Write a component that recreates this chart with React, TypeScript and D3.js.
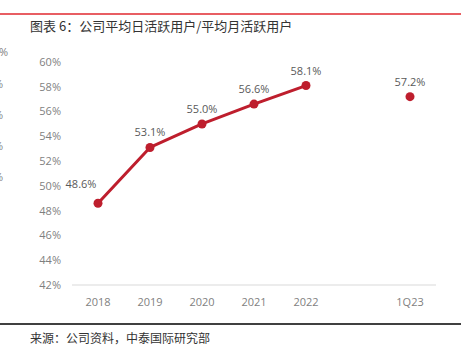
import React from "react";
import * as d3 from "d3";

const categories = ["2018", "2019", "2020", "2021", "2022", "", "1Q23"];
const lineValues = [48.6, 53.1, 55.0, 56.6, 58.1];
const lineCats = ["2018", "2019", "2020", "2021", "2022"];
const pointValue = 57.2;
const pointCat = "1Q23";
const yTicks = [42, 44, 46, 48, 50, 52, 54, 56, 58, 60];
const title = "图表 6：公司平均日活跃用户/平均月活跃用户";
const source = "来源：公司资料，中泰国际研究部";

const W = 470;
const H = 349;
const RED = "#be1e2d";
const FONT = "'Open Sans', 'Noto Sans CJK SC', sans-serif";

export default function App() {
  const x = d3.scaleBand<string>().domain(categories).range([72, 436]);
  const y = d3.scaleLinear().domain([42, 60]).range([285, 62]);
  const cx = (c: string) => (x(c) ?? 0) + x.bandwidth() / 2;

  const line = d3
    .line<number>()
    .x((_, i) => cx(lineCats[i]))
    .y((d) => y(d));

  return (
    <svg
      width={W}
      height={H}
      style={{ position: "absolute", left: 0, top: 0, background: "#fff" }}
      fontFamily={FONT}
    >
      <rect x={0} y={0} width={W} height={H} fill="#fff" />
      <line x1={0} x2={461} y1={14} y2={14} stroke="#e0292f" strokeWidth={1.5} />
      <text x={30} y={31} fontSize={13} fill="#333" fontFamily="'Noto Sans CJK SC', sans-serif">
        {title}
      </text>
      {/* clipped fragments from neighbouring chart */}
      <text x={8} y={56} fontSize={11} fill="#7f7f7f" textAnchor="end">0%</text>
      {[88, 119, 150, 181].map((yy, i) => (
        <text key={i} x={3} y={yy} fontSize={11} fill="#7f7f7f" textAnchor="end">%</text>
      ))}
      {yTicks.map((t) => (
        <text
          key={t}
          x={61}
          y={y(t)}
          dy="0.35em"
          fontSize={11}
          fill="#7f7f7f"
          textAnchor="end"
        >
          {t}%
        </text>
      ))}
      <line x1={72} x2={436} y1={y(42)} y2={y(42)} stroke="#d9d9d9" strokeWidth={1} />
      {categories.map((c, i) =>
        c ? (
          <text key={i} x={cx(c)} y={306} fontSize={11} fill="#7f7f7f" textAnchor="middle">
            {c}
          </text>
        ) : null
      )}
      <path d={line(lineValues) ?? ""} fill="none" stroke={RED} strokeWidth={3} strokeLinejoin="round" />
      {lineValues.map((v, i) => (
        <circle key={i} cx={cx(lineCats[i])} cy={y(v)} r={4.5} fill={RED} />
      ))}
      <circle cx={cx(pointCat)} cy={y(pointValue)} r={4.5} fill={RED} />
      {lineValues.map((v, i) =>
        i === 0 ? (
          <text key={i} x={cx(lineCats[i]) - 17} y={y(v) - 15} fontSize={11} fill="#595959" textAnchor="middle">
            {v.toFixed(1)}%
          </text>
        ) : (
          <text key={i} x={cx(lineCats[i])} y={y(v) - 11} fontSize={11} fill="#595959" textAnchor="middle">
            {v.toFixed(1)}%
          </text>
        )
      )}
      <text x={cx(pointCat)} y={y(pointValue) - 11} fontSize={11} fill="#595959" textAnchor="middle">
        {pointValue.toFixed(1)}%
      </text>
      <line x1={0} x2={461} y1={324} y2={324} stroke="#000" strokeWidth={1.5} />
      <text x={30} y={343} fontSize={12} fill="#333" fontFamily="'Noto Sans CJK SC', sans-serif">
        {source}
      </text>
    </svg>
  );
}
